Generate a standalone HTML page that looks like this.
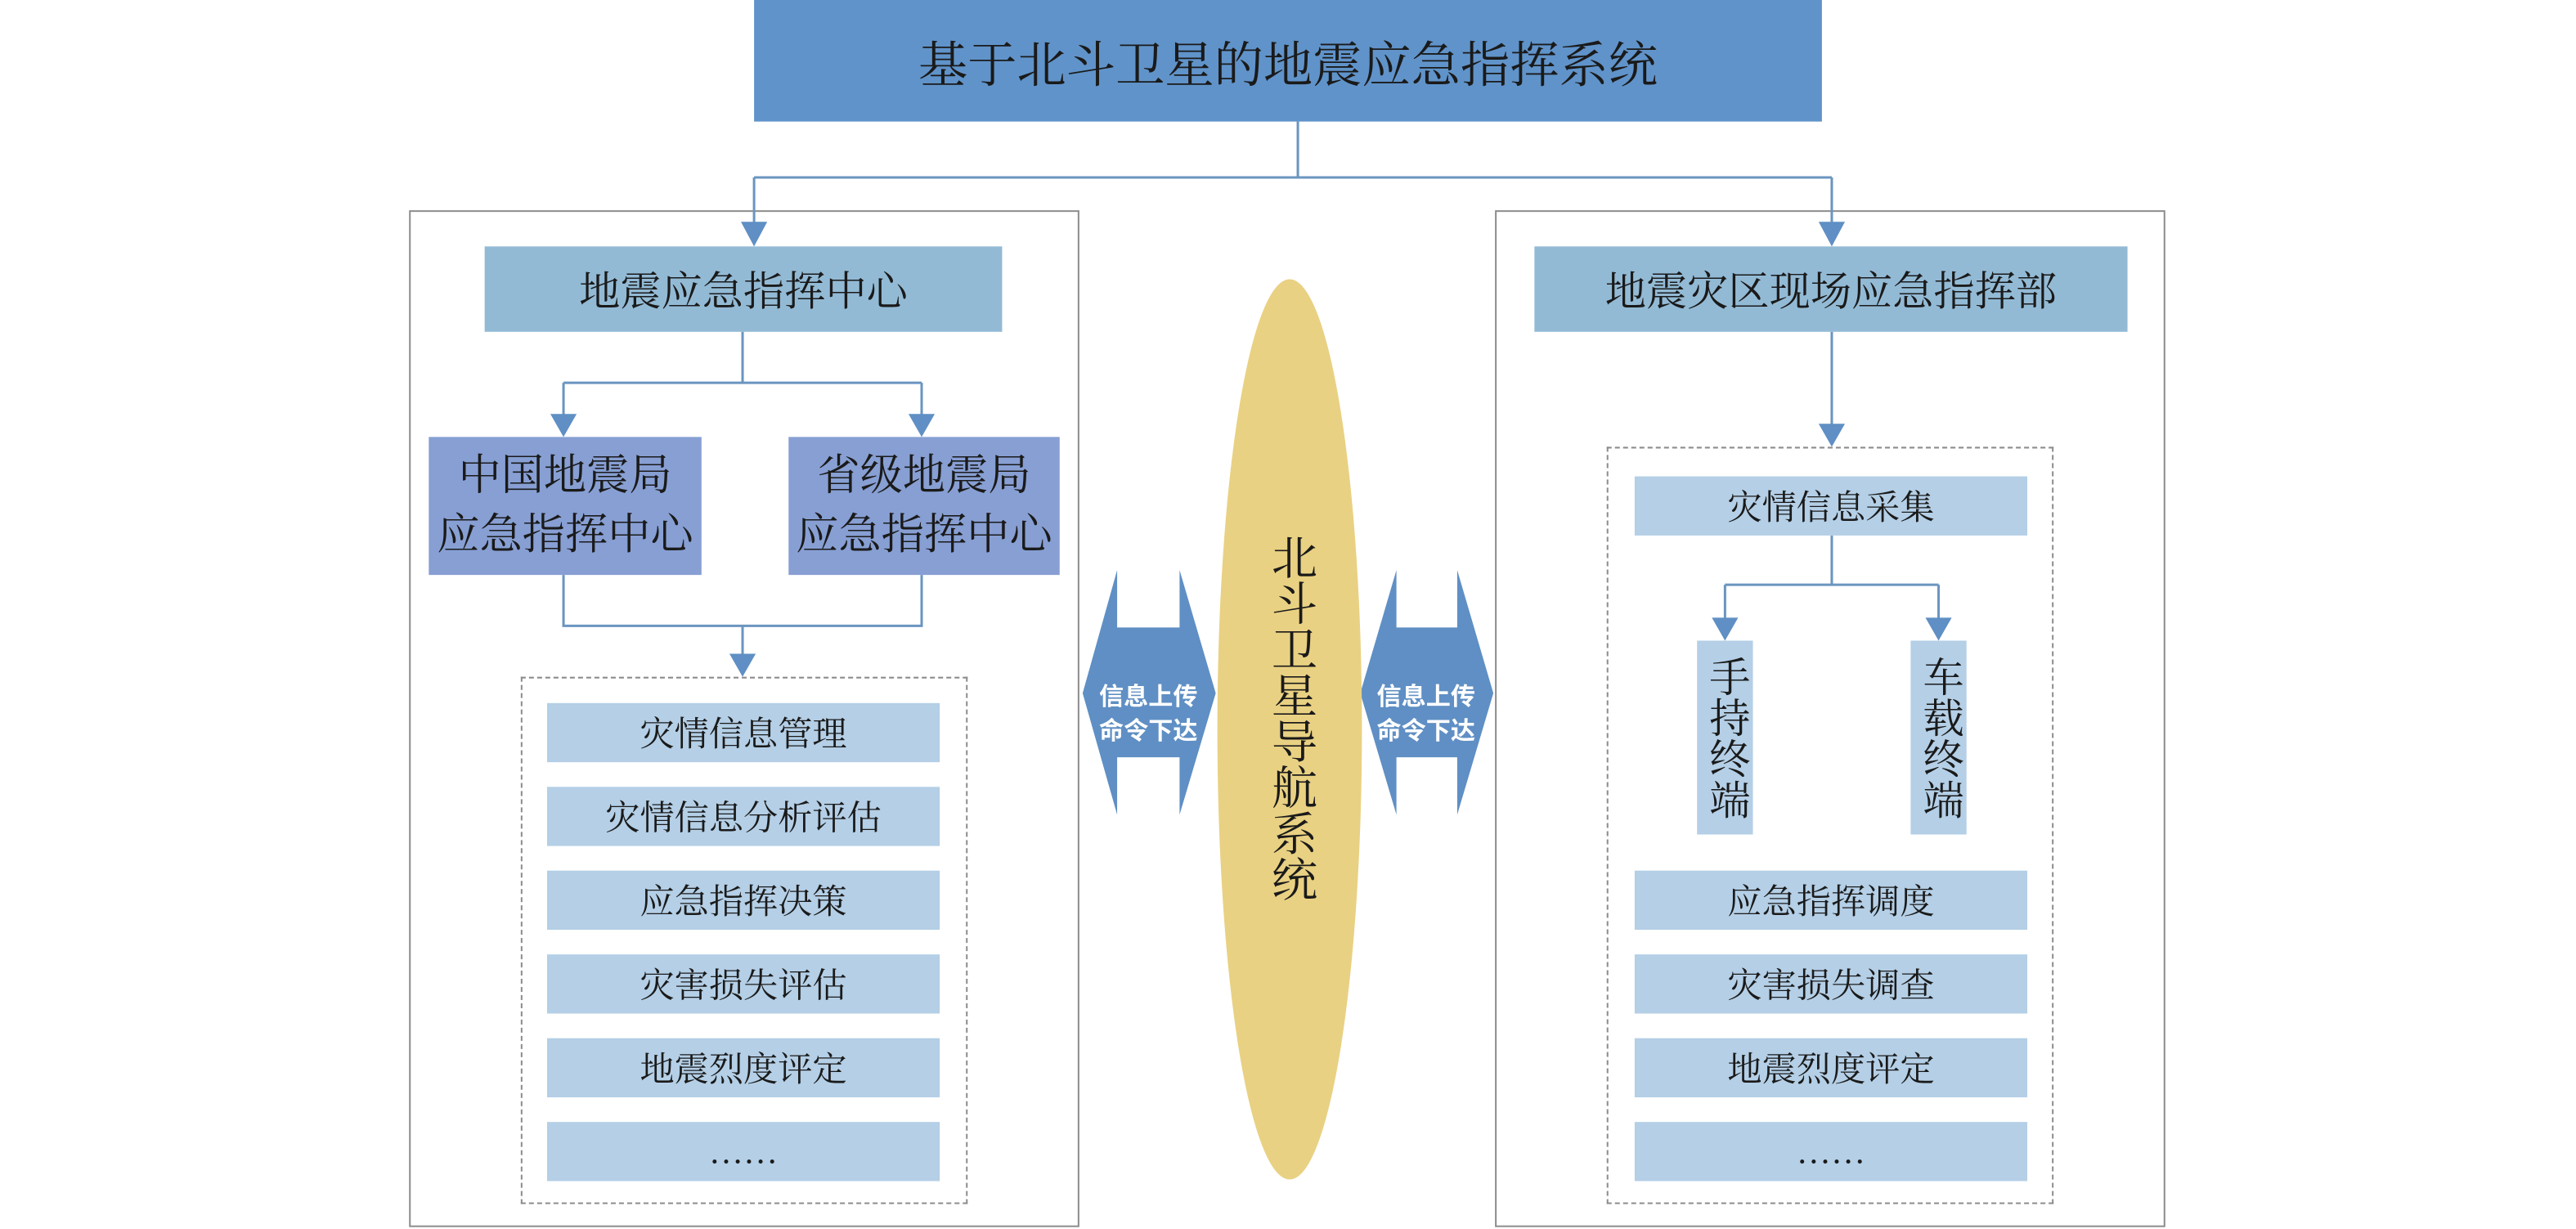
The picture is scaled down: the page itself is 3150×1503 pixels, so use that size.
<!DOCTYPE html>
<html><head><meta charset="utf-8"><style>
html,body{margin:0;padding:0;background:#fff;width:3150px;height:1501px;overflow:hidden}
#s{position:absolute;left:0;top:0;width:1568px;height:748px;transform:scale(2.00893);transform-origin:0 0;font-family:"Liberation Serif","Noto Serif CJK SC","Noto Sans CJK SC",serif;color:#1a1a1a}
.b{position:absolute;display:flex;align-items:center;justify-content:center;text-align:center;box-sizing:border-box}
.t{background:#6093c9;font-size:30px}
.m{background:#93bad5;font-size:25px}
.p{background:#879fd3;font-size:26px;line-height:36px}
.i{background:#b4cfe6;font-size:21px}
.v{background:#b4cfe6;font-size:25px;line-height:28px;writing-mode:vertical-rl}
.c{position:absolute;border:1.5px solid #8c8c8c;box-sizing:border-box}
.d{position:absolute;border:1.5px dashed #8c8c8c;box-sizing:border-box}
svg{position:absolute;left:0;top:0}
</style></head><body><div id="s">
<div class="c" style="left:249px;top:128px;width:408px;height:619px"></div>
<div class="c" style="left:910px;top:128px;width:408px;height:619px"></div>
<div class="d" style="left:317px;top:412px;width:272px;height:321px"></div>
<div class="d" style="left:978px;top:272px;width:272px;height:461px"></div>
<svg width="1568" height="748" viewBox="0 0 1568 748">
<g stroke="#6b95c0" stroke-width="1.5" fill="none">
<path d="M790 74V108M459 108H1115M459 108V136M1115 108V136"/>
<path d="M452 202V233M343 233H561M343 233V254M561 233V254"/>
<path d="M343 350V381H561V350M452 381V400"/>
<path d="M1115 202V260"/>
<path d="M1115 326V356M1050 356H1180M1050 356V378M1180 356V378"/>
</g>
<g fill="#5f8fc4">
<path d="M451 135H467L459 150Z"/><path d="M1107 135H1123L1115 150Z"/>
<path d="M335 252H351L343 266Z"/><path d="M553 252H569L561 266Z"/>
<path d="M444 398H460L452 412Z"/><path d="M1107 258H1123L1115 272Z"/>
<path d="M1042 376H1058L1050 390Z"/><path d="M1172 376H1188L1180 390Z"/>
<path d="M680 347V382H718V347L740 422L718 496V461H680V496L659 422Z"/>
<path d="M850 347V382H887V347L909 422L887 496V461H850V496L828 422Z"/>
</g>
<ellipse cx="785" cy="444" rx="44" ry="274" fill="#e9d183"/>
<g fill="#fff" font-size="15" font-weight="bold" font-family="Liberation Sans,Noto Sans CJK SC,sans-serif" text-anchor="middle">
<text x="699" y="429">信息上传</text><text x="699" y="450">命令下达</text>
<text x="868" y="429">信息上传</text><text x="868" y="450">命令下达</text>
</g>
</svg>
<div class="b" style="left:771px;top:325px;width:28px;font-size:28px;line-height:30px;writing-mode:vertical-rl">北斗卫星导航系统</div>
<div class="b t" style="left:459px;top:0;width:650px;height:74px">基于北斗卫星的地震应急指挥系统</div>
<div class="b m" style="left:295px;top:150px;width:315px;height:52px">地震应急指挥中心</div>
<div class="b m" style="left:934px;top:150px;width:361px;height:52px">地震灾区现场应急指挥部</div>
<div class="b p" style="left:261px;top:266px;width:166px;height:84px">中国地震局<br>应急指挥中心</div>
<div class="b p" style="left:480px;top:266px;width:165px;height:84px">省级地震局<br>应急指挥中心</div>
<div class="b i" style="left:333px;top:428px;width:239px;height:36px">灾情信息管理</div>
<div class="b i" style="left:333px;top:479px;width:239px;height:36px">灾情信息分析评估</div>
<div class="b i" style="left:333px;top:530px;width:239px;height:36px">应急指挥决策</div>
<div class="b i" style="left:333px;top:581px;width:239px;height:36px">灾害损失评估</div>
<div class="b i" style="left:333px;top:632px;width:239px;height:36px">地震烈度评定</div>
<div class="b i" style="left:333px;top:683px;width:239px;height:36px">……</div>
<div class="b i" style="left:995px;top:290px;width:239px;height:36px">灾情信息采集</div>
<div class="b v" style="left:1033px;top:390px;width:34px;height:118px">手持终端</div>
<div class="b v" style="left:1163px;top:390px;width:34px;height:118px">车载终端</div>
<div class="b i" style="left:995px;top:530px;width:239px;height:36px">应急指挥调度</div>
<div class="b i" style="left:995px;top:581px;width:239px;height:36px">灾害损失调查</div>
<div class="b i" style="left:995px;top:632px;width:239px;height:36px">地震烈度评定</div>
<div class="b i" style="left:995px;top:683px;width:239px;height:36px">……</div>
</div></body></html>
